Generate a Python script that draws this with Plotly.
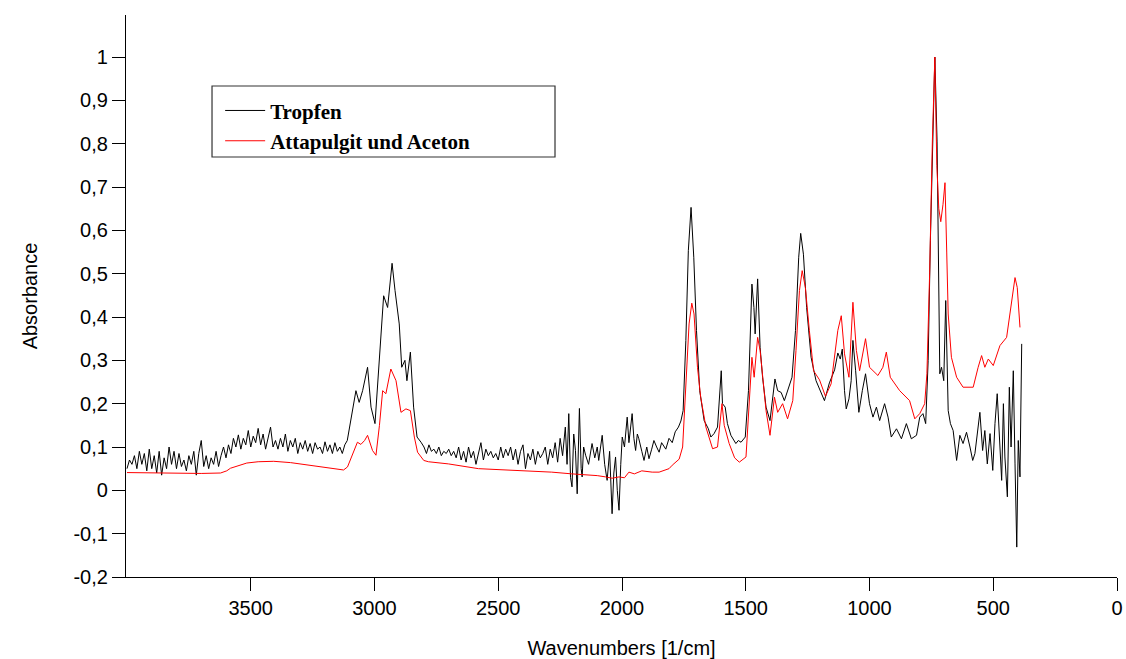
import plotly.graph_objects as go

# ---------------- data ----------------
wn_tropfen = [
    4000, 3990, 3980, 3970, 3960, 3950, 3940, 3930, 3920, 3910, 3900, 3890, 3880, 3870, 3860,
    3850, 3840, 3830, 3820, 3810, 3800, 3790, 3780, 3770, 3760, 3750, 3740, 3730, 3720, 3710,
    3700, 3690, 3680, 3670, 3660, 3650, 3640, 3630, 3620, 3610, 3600,
    3590, 3580, 3570, 3560, 3550, 3540, 3530, 3520, 3510, 3500, 3490, 3480, 3470, 3460, 3450,
    3440, 3430, 3420, 3410, 3400, 3390, 3380, 3370, 3360, 3350, 3340, 3330, 3320, 3310, 3300,
    3290, 3280, 3270, 3260, 3250, 3240, 3230, 3220, 3210, 3200, 3190, 3180, 3170, 3160, 3150,
    3140, 3130, 3120,
    3110, 3090, 3075, 3062, 3048, 3028, 3014, 2998, 2981, 2963, 2947, 2929, 2917, 2900, 2890,
    2877, 2869, 2855, 2842, 2828, 2812,
    2800, 2790, 2780, 2770, 2760, 2750, 2740, 2730, 2720, 2710, 2700, 2690, 2680, 2670, 2660,
    2650, 2640, 2630, 2620, 2610, 2600, 2590, 2580, 2570, 2560, 2550, 2540, 2530, 2520, 2510,
    2500, 2490, 2480, 2470, 2460, 2450, 2440, 2430, 2420, 2410, 2400, 2390, 2380, 2370, 2360,
    2350, 2340, 2330, 2320, 2310, 2300, 2290, 2280, 2270, 2260, 2250, 2240,
    2229, 2222, 2215, 2208, 2202, 2195, 2188, 2181, 2172, 2165, 2161, 2155, 2147, 2135, 2121,
    2110, 2100, 2094, 2080, 2070, 2060, 2050, 2040, 2033, 2026, 2019, 2012, 2005, 1999, 1990,
    1979, 1972, 1965, 1959, 1952, 1945, 1938, 1932, 1920, 1911, 1900, 1891, 1880, 1871, 1860,
    1850, 1840, 1823, 1810, 1797, 1785, 1772, 1762, 1753,
    1742, 1732, 1721, 1710, 1699, 1686, 1668, 1651, 1641, 1628, 1614, 1605, 1599, 1594, 1583,
    1574, 1560, 1540, 1530, 1519, 1502, 1489, 1475, 1467, 1462, 1452, 1442, 1432, 1418, 1402,
    1391, 1382, 1371, 1357, 1344, 1331, 1313, 1299, 1286, 1278, 1267, 1254, 1236, 1216, 1202,
    1182, 1162, 1141, 1128, 1118, 1110, 1101, 1094, 1083, 1074, 1067, 1056, 1043, 1029, 1016,
    1000, 986, 972, 959, 939, 925, 912, 891, 871, 851, 831, 810, 797, 784, 773,
    763, 754, 743, 736, 727, 719, 716, 709, 700, 692, 686, 682, 673, 662, 648,
    635, 622, 608, 594, 583, 574, 561, 554, 543, 534, 524, 513, 502, 493, 484,
    476, 466, 459, 453, 443, 435, 428, 419, 412, 405, 399, 392, 385,
]
abs_tropfen = [
    0.050, 0.070, 0.060, 0.080, 0.050, 0.090, 0.060, 0.085, 0.045, 0.095, 0.050, 0.080, 0.040, 0.090, 0.035,
    0.075, 0.050, 0.100, 0.060, 0.090, 0.050, 0.085, 0.055, 0.070, 0.045, 0.080, 0.060, 0.090, 0.035, 0.085,
    0.115, 0.055, 0.080, 0.050, 0.075, 0.060, 0.090, 0.055, 0.080, 0.100, 0.075,
    0.105, 0.085, 0.120, 0.100, 0.128, 0.095, 0.120, 0.105, 0.138, 0.100, 0.125, 0.110, 0.143, 0.105, 0.130,
    0.095, 0.120, 0.146, 0.100, 0.115, 0.095, 0.120, 0.100, 0.130, 0.090, 0.115, 0.100, 0.120, 0.085, 0.110,
    0.095, 0.115, 0.090, 0.108, 0.085, 0.110, 0.095, 0.100, 0.085, 0.112, 0.090, 0.105, 0.085, 0.110, 0.090,
    0.100, 0.085, 0.105,
    0.115, 0.177, 0.230, 0.203, 0.230, 0.284, 0.192, 0.154, 0.307, 0.449, 0.422, 0.524, 0.461, 0.384, 0.284,
    0.300, 0.253, 0.319, 0.192, 0.123, 0.111,
    0.100, 0.085, 0.105, 0.090, 0.095, 0.085, 0.100, 0.080, 0.090, 0.085, 0.095, 0.080, 0.090, 0.075, 0.100,
    0.070, 0.090, 0.065, 0.100, 0.075, 0.090, 0.060, 0.085, 0.110, 0.070, 0.095, 0.080, 0.090, 0.075, 0.085,
    0.070, 0.100, 0.075, 0.095, 0.080, 0.100, 0.070, 0.095, 0.060, 0.090, 0.105, 0.050, 0.085, 0.070, 0.095,
    0.060, 0.090, 0.075, 0.085, 0.100, 0.060, 0.095, 0.075, 0.110, 0.065, 0.120, 0.080,
    0.146, 0.060, 0.177, 0.030, 0.008, 0.130, 0.092, -0.008, 0.189, 0.050, 0.031, 0.100, 0.081, 0.060, 0.108,
    0.075, 0.100, 0.069, 0.127, 0.060, 0.023, 0.090, -0.054, 0.040, 0.077, 0.000, -0.046, 0.060, 0.123, 0.100,
    0.169, 0.110, 0.154, 0.177, 0.120, 0.092, 0.130, 0.119, 0.090, 0.069, 0.100, 0.073, 0.095, 0.115, 0.100,
    0.088, 0.110, 0.095, 0.120, 0.110, 0.135, 0.146, 0.160, 0.184,
    0.346, 0.553, 0.653, 0.538, 0.369, 0.230, 0.161, 0.142, 0.123, 0.131, 0.146, 0.230, 0.276, 0.200, 0.192,
    0.154, 0.127, 0.108, 0.115, 0.111, 0.123, 0.230, 0.476, 0.422, 0.361, 0.488, 0.330, 0.261, 0.192, 0.161,
    0.223, 0.257, 0.230, 0.226, 0.207, 0.230, 0.261, 0.369, 0.538, 0.593, 0.545, 0.422, 0.307, 0.253, 0.235,
    0.207, 0.248, 0.278, 0.317, 0.303, 0.326, 0.230, 0.188, 0.211, 0.253, 0.346, 0.276, 0.180, 0.230, 0.269,
    0.200, 0.169, 0.192, 0.161, 0.200, 0.169, 0.123, 0.142, 0.119, 0.154, 0.119, 0.127, 0.169, 0.177, 0.154,
    0.300, 0.576, 0.883, 1.000, 0.806, 0.400, 0.269, 0.284, 0.253, 0.438, 0.292, 0.184, 0.154, 0.138, 0.069,
    0.127, 0.108, 0.134, 0.100, 0.069, 0.085, 0.146, 0.180, 0.092, 0.138, 0.061, 0.131, 0.046, 0.154, 0.223,
    0.123, 0.023, 0.200, 0.077, -0.015, 0.238, 0.100, 0.276, 0.061, -0.131, 0.115, 0.031, 0.338,
]

wn_attapulgit = [
    4000, 3900, 3800, 3700, 3622, 3597, 3582, 3550, 3516, 3470, 3407, 3339, 3272, 3232, 3150,
    3125, 3109, 3095, 3082, 3069, 3055, 3040, 3028, 3008, 2994, 2980, 2967, 2954, 2934, 2913,
    2893, 2873, 2855, 2839, 2826, 2801, 2782, 2701, 2580, 2418, 2284, 2203, 2149, 2100, 2066,
    2040, 2012, 1990, 1972, 1950, 1920, 1878, 1850, 1810, 1797, 1769, 1755,
    1742, 1729, 1718, 1709, 1695, 1682, 1661, 1634, 1614, 1603, 1596, 1587, 1567, 1545, 1526,
    1499, 1486, 1475, 1466, 1452, 1442, 1432, 1418, 1402, 1384, 1371, 1351, 1331, 1310, 1297,
    1283, 1272, 1259, 1243, 1226, 1202, 1178, 1155, 1148, 1135, 1128, 1114, 1101, 1083, 1067,
    1053, 1040, 1016, 1000, 966, 946, 932, 916, 878, 838, 817, 797, 777, 768, 757,
    746, 736, 728, 720, 712, 703, 695, 688, 682, 669, 648, 622, 581, 561, 547,
    534, 520, 500, 473, 446, 425, 412, 403, 392,
]
abs_attapulgit = [
    0.041, 0.040, 0.040, 0.039, 0.040, 0.045, 0.051, 0.057, 0.063, 0.066, 0.067, 0.064, 0.059, 0.056, 0.050,
    0.047, 0.054, 0.075, 0.092, 0.111, 0.106, 0.115, 0.127, 0.092, 0.081, 0.150, 0.230, 0.223, 0.280, 0.253,
    0.180, 0.188, 0.184, 0.123, 0.088, 0.069, 0.066, 0.061, 0.050, 0.046, 0.042, 0.038, 0.036, 0.034, 0.031,
    0.028, 0.031, 0.029, 0.042, 0.038, 0.045, 0.042, 0.042, 0.050, 0.058, 0.072, 0.100,
    0.230, 0.384, 0.432, 0.407, 0.284, 0.215, 0.146, 0.096, 0.100, 0.154, 0.200, 0.150, 0.108, 0.075, 0.065,
    0.077, 0.215, 0.307, 0.261, 0.353, 0.323, 0.261, 0.184, 0.127, 0.215, 0.180, 0.200, 0.165, 0.207, 0.323,
    0.461, 0.507, 0.468, 0.369, 0.276, 0.255, 0.217, 0.246, 0.276, 0.330, 0.369, 0.403, 0.315, 0.261, 0.434,
    0.323, 0.276, 0.350, 0.284, 0.265, 0.284, 0.319, 0.261, 0.230, 0.207, 0.165, 0.177, 0.200, 0.269, 0.500,
    0.806, 1.000, 0.750, 0.650, 0.620, 0.660, 0.710, 0.550, 0.407, 0.307, 0.261, 0.238, 0.238, 0.284, 0.311,
    0.284, 0.303, 0.288, 0.334, 0.353, 0.445, 0.491, 0.468, 0.376,
]

series_names = ["Tropfen", "Attapulgit und Aceton"]
series_colors = ["#000000", "#ff0000"]

x_ticks = [3500, 3000, 2500, 2000, 1500, 1000, 500, 0]
y_ticks = [-0.2, -0.1, 0, 0.1, 0.2, 0.3, 0.4, 0.5, 0.6, 0.7, 0.8, 0.9, 1]
y_ticktext = ["-0,2", "-0,1", "0", "0,1", "0,2", "0,3", "0,4", "0,5", "0,6", "0,7", "0,8", "0,9", "1"]

x_title = "Wavenumbers [1/cm]"
y_title = "Absorbance"

# ---------------- figure ----------------
fig = go.Figure()
fig.add_trace(go.Scatter(x=wn_tropfen, y=abs_tropfen, mode="lines", name=series_names[0],
                         legendgroup="a", line=dict(color=series_colors[0], width=1)))
fig.add_trace(go.Scatter(x=wn_attapulgit, y=abs_attapulgit, mode="lines", name=series_names[1],
                         legendgroup="b", line=dict(color=series_colors[1], width=1)))

axis_font = dict(family="Liberation Sans, Arial, sans-serif", size=20, color="#000000")

fig.update_layout(
    width=1126, height=659,
    margin=dict(l=126, r=9, t=15, b=82, autoexpand=False),
    paper_bgcolor="white", plot_bgcolor="white",
    font=axis_font,
    showlegend=True,
    legend=dict(
        x=0.095, y=0.866, xanchor="left", yanchor="top",
        bgcolor="rgba(0,0,0,0)", borderwidth=0, itemwidth=40,
        font=dict(family="Liberation Serif, Times New Roman, serif", size=21, color="#000000", weight="bold"),
        tracegroupgap=4, traceorder="normal",
    ),
    shapes=[dict(type="rect", xref="paper", yref="paper",
                 x0=0.0868, x1=0.4329, y0=0.7473, y1=0.8737,
                 line=dict(color="#333333", width=1.2), fillcolor="rgba(0,0,0,0)", layer="above")],
)

fig.update_xaxes(
    range=[4004, 0], tickvals=x_ticks, ticks="outside", ticklen=13, tickwidth=1.2,
    tickcolor="#000000", showline=True, linecolor="#000000", linewidth=1.2,
    showgrid=False, zeroline=False, tickfont=axis_font, automargin=False,
    title=dict(text=x_title, font=axis_font, standoff=22),
)
fig.update_yaxes(
    range=[-0.2, 1.097], tickvals=y_ticks, ticktext=y_ticktext, ticks="outside", ticklen=13,
    tickwidth=1.2, tickcolor="#000000", showline=True, linecolor="#000000", linewidth=1.2,
    showgrid=False, zeroline=False, tickfont=axis_font, automargin=False,
    title=dict(text=y_title, font=axis_font, standoff=30),
)

fig.write_html("out.html")
